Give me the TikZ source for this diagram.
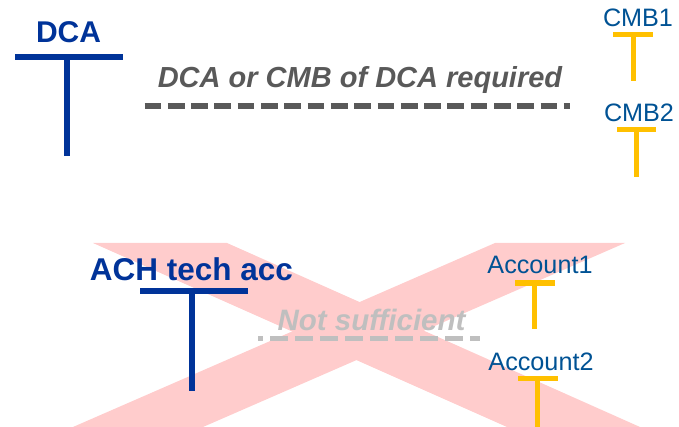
\documentclass[tikz,border=0pt]{standalone}
\usepackage{fontspec}
\setmainfont{Liberation Sans}
\definecolor{dcablue}{RGB}{0,51,153}
\definecolor{acctblue}{RGB}{0,82,148}
\definecolor{tyellow}{RGB}{255,192,0}
\definecolor{darkgray}{RGB}{89,89,89}
\definecolor{lightgray}{RGB}{191,191,191}
\definecolor{xpink}{RGB}{255,204,204}
\begin{document}
\begin{tikzpicture}[x=1pt,y=-1pt,
  bluetxt/.style={text=dcablue,font=\bfseries\fontsize{30}{34}\selectfont,anchor=base,inner sep=0pt},
  acctxt/.style={text=acctblue,font=\fontsize{25.2}{29}\selectfont,anchor=base,inner sep=0pt},
  bluebar/.style={draw=dcablue,line width=5.5pt},
  yelbar/.style={draw=tyellow,line width=5pt},
  reqline/.style={draw=darkgray,line width=5.5pt,dash pattern=on 16.7pt off 6.6pt},
  nsline/.style={draw=lightgray,line width=5pt,dash pattern=on 18pt off 7pt,dash phase=13pt},
]
\useasboundingbox (0,0) rectangle (679,427);
% red cross
\fill[xpink] (93,243) -- (227,243) -- (640,427) -- (507,427) -- cycle;
\fill[xpink] (495,243) -- (625,243) -- (203,427) -- (73,427) -- cycle;

% DCA
\node[bluetxt] (dca) at (68.5,43) {DCA};
\coordinate (dcaL) at (15,57); \coordinate (dcaR) at (123,57);
\coordinate (dcaT) at (67,57); \coordinate (dcaB) at (67,156);
\draw[bluebar] (dcaT) -- (dcaB);
\draw[bluebar] (dcaL) -- (dcaR);

% required
\node[text=darkgray,font=\bfseries\itshape\fontsize{29}{34}\selectfont,anchor=base,inner sep=0pt] (req) at (360,88) {DCA or CMB of DCA required};
\coordinate (reqA) at (144.5,106); \coordinate (reqB) at (570,106);
\draw[reqline] (reqA) -- (reqB);

% CMB1
\node[acctxt] (cmb1) at (638,27) {CMB1};
\coordinate (c1L) at (613,35); \coordinate (c1R) at (653,35);
\coordinate (c1T) at (633,35); \coordinate (c1B) at (633,81);
\draw[yelbar] (c1T) -- (c1B);
\draw[yelbar] (c1L) -- (c1R);

% CMB2
\node[acctxt] (cmb2) at (639,122) {CMB2};
\coordinate (c2L) at (617,130); \coordinate (c2R) at (656,130);
\coordinate (c2T) at (636,130); \coordinate (c2B) at (636,177);
\draw[yelbar] (c2T) -- (c2B);
\draw[yelbar] (c2L) -- (c2R);

% ACH tech acc
\node[bluetxt,font=\bfseries\fontsize{31.5}{36}\selectfont] (ach) at (191.5,280) {ACH tech acc};
\coordinate (achL) at (140,291); \coordinate (achR) at (248,291);
\coordinate (achT) at (192,291); \coordinate (achB) at (192,391);
\draw[bluebar] (achT) -- (achB);
\draw[bluebar] (achL) -- (achR);

% Not sufficient
\node[text=lightgray,font=\bfseries\itshape\fontsize{29.5}{34}\selectfont,anchor=base,inner sep=0pt] (ns) at (371.5,330) {Not sufficient};
\coordinate (nsA) at (258,338); \coordinate (nsB) at (480,338);
\draw[nsline] (nsA) -- (nsB);

% Account1
\node[acctxt] (acc1) at (540,274) {Account1};
\coordinate (a1L) at (515,283); \coordinate (a1R) at (555,283);
\coordinate (a1T) at (534,283); \coordinate (a1B) at (534,329);
\draw[yelbar] (a1T) -- (a1B);
\draw[yelbar] (a1L) -- (a1R);

% Account2
\node[acctxt] (acc2) at (541,370) {Account2};
\coordinate (a2L) at (518,378); \coordinate (a2R) at (558,378);
\coordinate (a2T) at (537,378); \coordinate (a2B) at (537,427);
\draw[yelbar] (a2T) -- (a2B);
\draw[yelbar] (a2L) -- (a2R);
\end{tikzpicture}
\end{document}
